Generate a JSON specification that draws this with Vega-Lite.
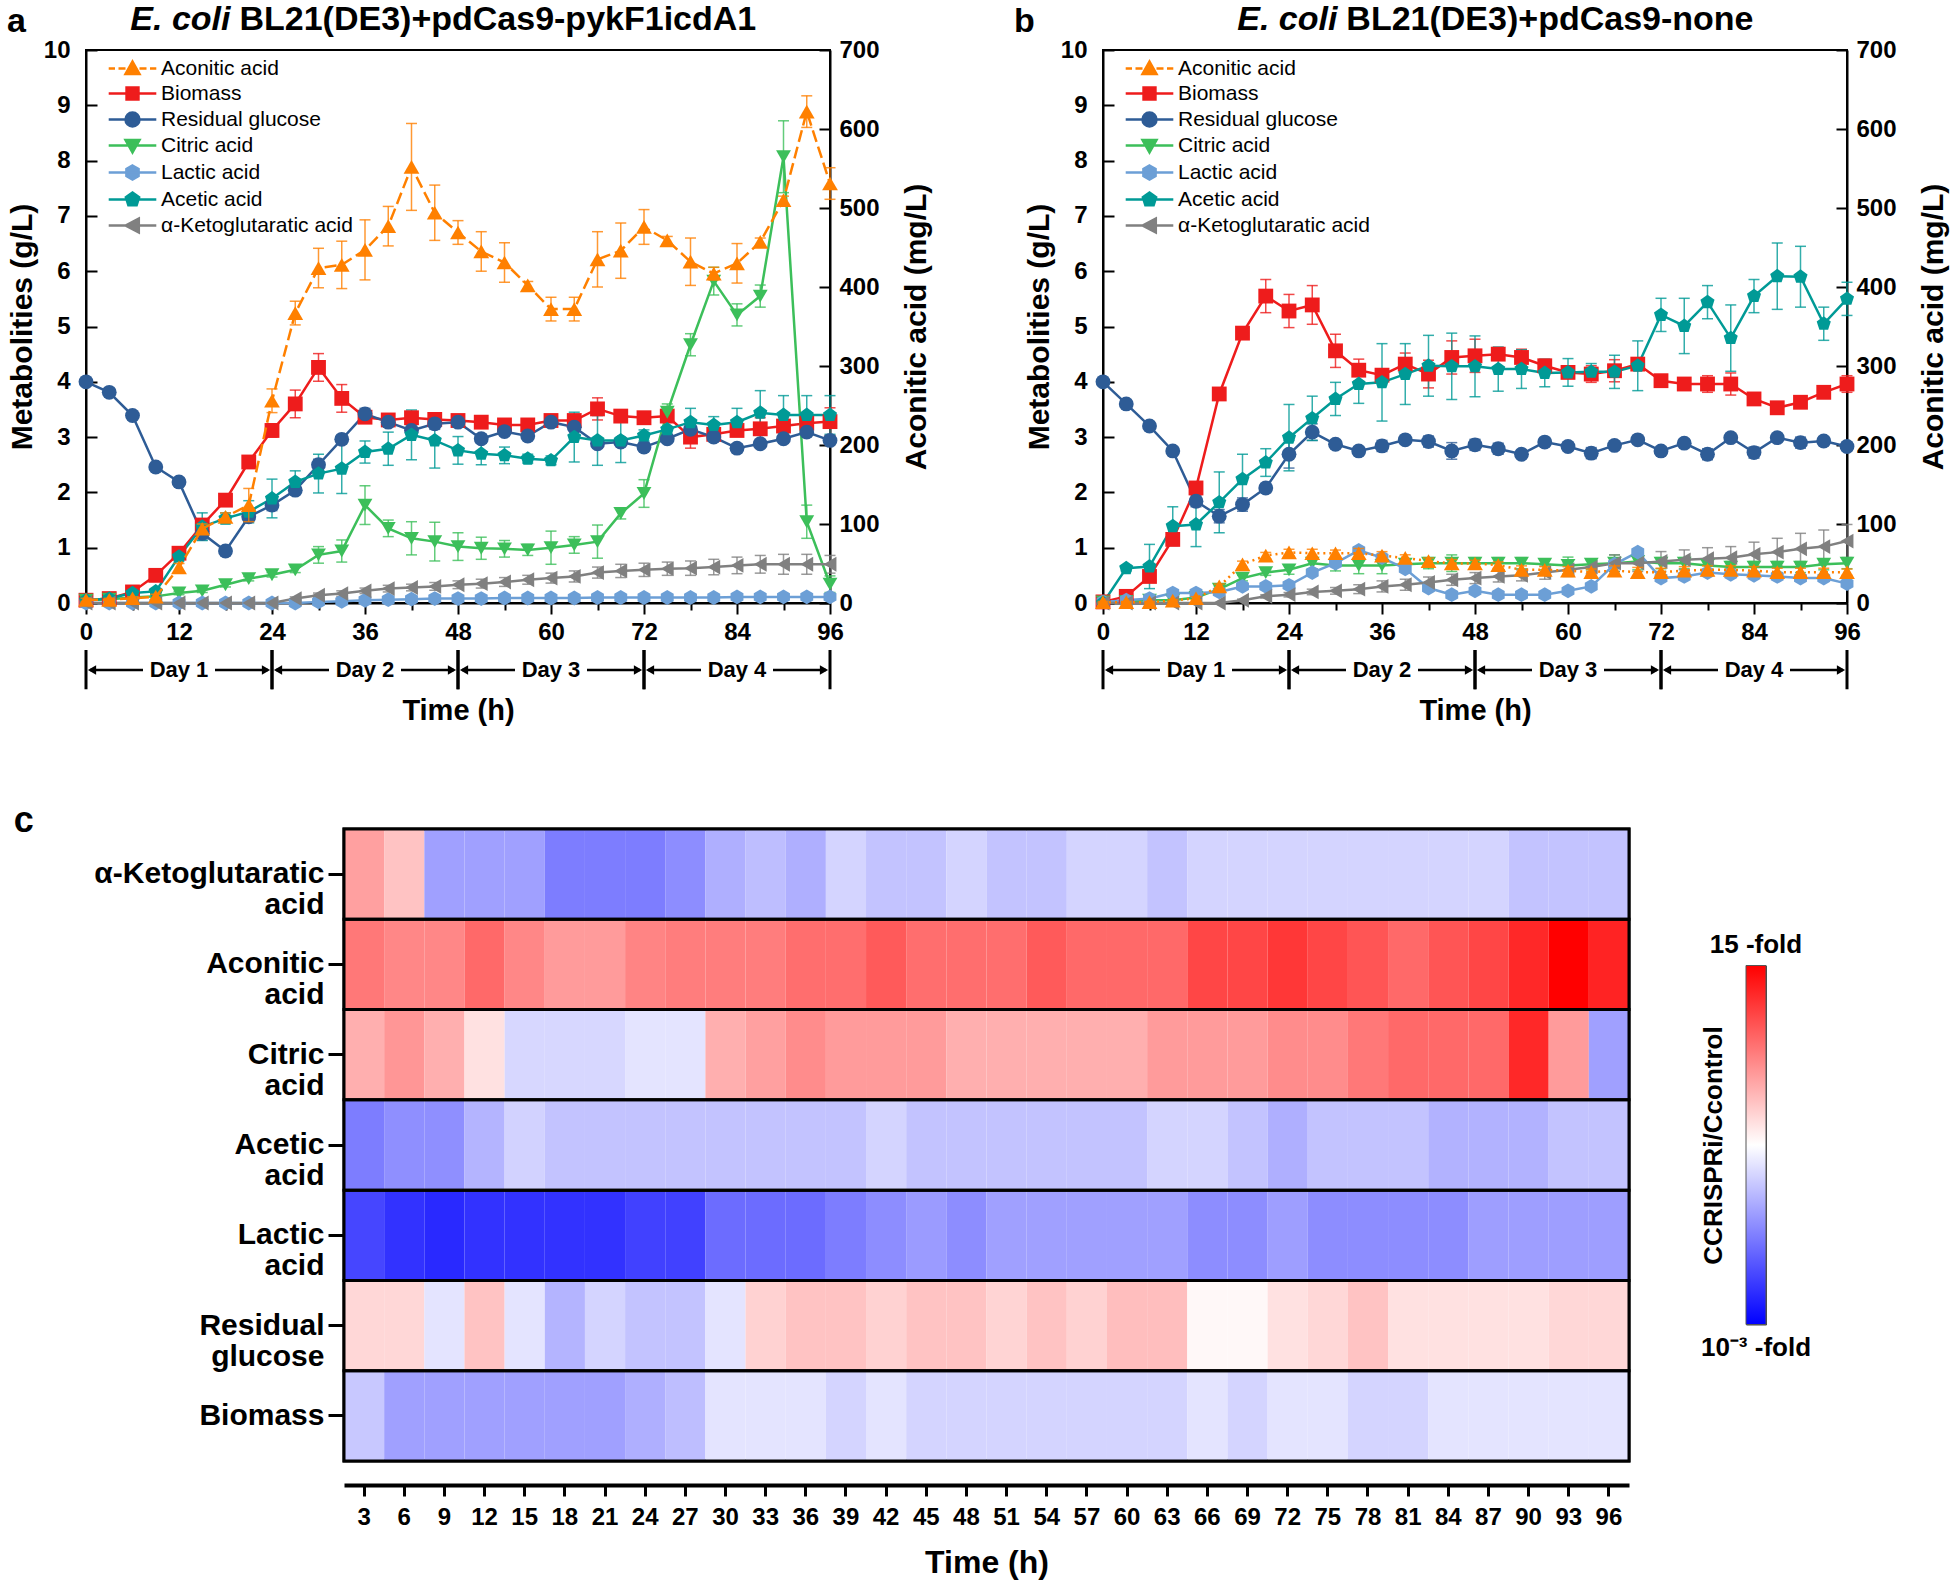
{
"$schema": "https://vega.github.io/schema/vega-lite/v6.json",
"background": "white",
"padding": {"left": 5, "top": 2, "right": 0, "bottom": 0},
"config": {
  "font": "Liberation Sans",
  "view": {"stroke": "black", "strokeWidth": 2},
  "axis": {"labelColor": "black", "titleColor": "black", "domainColor": "black", "tickColor": "black", "labelFont": "Liberation Sans", "titleFont": "Liberation Sans", "grid": false},
  "text": {"font": "Liberation Sans", "color": "black"},
  "legend": {"labelFont": "Liberation Sans"}
},
"datasets": {
"days": [{"day":"Day 1","s":0,"m":12,"e":24},{"day":"Day 2","s":24,"m":36,"e":48},{"day":"Day 3","s":48,"m":60,"e":72},{"day":"Day 4","s":72,"m":84,"e":96}],
"rows": [{"m":"α-Ketoglutaratic acid"},{"m":"Aconitic acid"},{"m":"Citric acid"},{"m":"Acetic acid"},{"m":"Lactic acid"},{"m":"Residual glucose"},{"m":"Biomass"}],
"cbar": [{"label":"15 -fold","fold":15},{"label":"10⁻³ -fold","fold":0.001}],
"pa": [
{"s":"Aconitic acid","t":0,"v":4,"e":2},{"s":"Aconitic acid","t":3,"v":4,"e":2},{"s":"Aconitic acid","t":6,"v":6,"e":2},{"s":"Aconitic acid","t":9,"v":8,"e":3},{"s":"Aconitic acid","t":12,"v":45,"e":5},{"s":"Aconitic acid","t":15,"v":94,"e":6},{"s":"Aconitic acid","t":18,"v":109,"e":5},{"s":"Aconitic acid","t":21,"v":124,"e":21},{"s":"Aconitic acid","t":24,"v":256,"e":15},{"s":"Aconitic acid","t":27,"v":367,"e":15},{"s":"Aconitic acid","t":30,"v":424,"e":25},{"s":"Aconitic acid","t":33,"v":428,"e":30},{"s":"Aconitic acid","t":36,"v":447,"e":38},{"s":"Aconitic acid","t":39,"v":477,"e":25},{"s":"Aconitic acid","t":42,"v":552,"e":55},{"s":"Aconitic acid","t":45,"v":494,"e":35},{"s":"Aconitic acid","t":48,"v":469,"e":15},{"s":"Aconitic acid","t":51,"v":445,"e":25},{"s":"Aconitic acid","t":54,"v":431,"e":25},{"s":"Aconitic acid","t":57,"v":402,"e":5},{"s":"Aconitic acid","t":60,"v":372,"e":15},{"s":"Aconitic acid","t":63,"v":372,"e":15},{"s":"Aconitic acid","t":66,"v":435,"e":35},{"s":"Aconitic acid","t":69,"v":446,"e":35},{"s":"Aconitic acid","t":72,"v":476,"e":22},{"s":"Aconitic acid","t":75,"v":459,"e":5},{"s":"Aconitic acid","t":78,"v":432,"e":30},{"s":"Aconitic acid","t":81,"v":417,"e":8},{"s":"Aconitic acid","t":84,"v":430,"e":25},{"s":"Aconitic acid","t":87,"v":457,"e":5},{"s":"Aconitic acid","t":90,"v":510,"e":5},{"s":"Aconitic acid","t":93,"v":622,"e":20},{"s":"Aconitic acid","t":96,"v":531,"e":20},
{"s":"Biomass","t":0,"v":0.05,"e":0.02},{"s":"Biomass","t":3,"v":0.08,"e":0.02},{"s":"Biomass","t":6,"v":0.2,"e":0.03},{"s":"Biomass","t":9,"v":0.5,"e":0.05},{"s":"Biomass","t":12,"v":0.9,"e":0.06},{"s":"Biomass","t":15,"v":1.41,"e":0.08},{"s":"Biomass","t":18,"v":1.86,"e":0.1},{"s":"Biomass","t":21,"v":2.55,"e":0.08},{"s":"Biomass","t":24,"v":3.12,"e":0.12},{"s":"Biomass","t":27,"v":3.6,"e":0.25},{"s":"Biomass","t":30,"v":4.26,"e":0.25},{"s":"Biomass","t":33,"v":3.7,"e":0.25},{"s":"Biomass","t":36,"v":3.36,"e":0.1},{"s":"Biomass","t":39,"v":3.31,"e":0.08},{"s":"Biomass","t":42,"v":3.35,"e":0.08},{"s":"Biomass","t":45,"v":3.32,"e":0.1},{"s":"Biomass","t":48,"v":3.3,"e":0.08},{"s":"Biomass","t":51,"v":3.27,"e":0.06},{"s":"Biomass","t":54,"v":3.22,"e":0.06},{"s":"Biomass","t":57,"v":3.22,"e":0.06},{"s":"Biomass","t":60,"v":3.3,"e":0.06},{"s":"Biomass","t":63,"v":3.3,"e":0.06},{"s":"Biomass","t":66,"v":3.51,"e":0.2},{"s":"Biomass","t":69,"v":3.38,"e":0.08},{"s":"Biomass","t":72,"v":3.35,"e":0.08},{"s":"Biomass","t":75,"v":3.38,"e":0.08},{"s":"Biomass","t":78,"v":3.0,"e":0.2},{"s":"Biomass","t":81,"v":3.05,"e":0.06},{"s":"Biomass","t":84,"v":3.12,"e":0.06},{"s":"Biomass","t":87,"v":3.15,"e":0.2},{"s":"Biomass","t":90,"v":3.2,"e":0.1},{"s":"Biomass","t":93,"v":3.25,"e":0.1},{"s":"Biomass","t":96,"v":3.28,"e":0.25},
{"s":"Residual glucose","t":0,"v":4.0,"e":0.05},{"s":"Residual glucose","t":3,"v":3.81,"e":0.05},{"s":"Residual glucose","t":6,"v":3.39,"e":0.06},{"s":"Residual glucose","t":9,"v":2.46,"e":0.06},{"s":"Residual glucose","t":12,"v":2.19,"e":0.07},{"s":"Residual glucose","t":15,"v":1.26,"e":0.12},{"s":"Residual glucose","t":18,"v":0.94,"e":0.08},{"s":"Residual glucose","t":21,"v":1.56,"e":0.08},{"s":"Residual glucose","t":24,"v":1.77,"e":0.1},{"s":"Residual glucose","t":27,"v":2.04,"e":0.07},{"s":"Residual glucose","t":30,"v":2.5,"e":0.1},{"s":"Residual glucose","t":33,"v":2.96,"e":0.06},{"s":"Residual glucose","t":36,"v":3.42,"e":0.1},{"s":"Residual glucose","t":39,"v":3.27,"e":0.06},{"s":"Residual glucose","t":42,"v":3.12,"e":0.06},{"s":"Residual glucose","t":45,"v":3.24,"e":0.1},{"s":"Residual glucose","t":48,"v":3.27,"e":0.06},{"s":"Residual glucose","t":51,"v":2.97,"e":0.08},{"s":"Residual glucose","t":54,"v":3.1,"e":0.06},{"s":"Residual glucose","t":57,"v":3.02,"e":0.06},{"s":"Residual glucose","t":60,"v":3.27,"e":0.05},{"s":"Residual glucose","t":63,"v":3.18,"e":0.06},{"s":"Residual glucose","t":66,"v":2.88,"e":0.08},{"s":"Residual glucose","t":69,"v":2.91,"e":0.06},{"s":"Residual glucose","t":72,"v":2.82,"e":0.07},{"s":"Residual glucose","t":75,"v":2.97,"e":0.06},{"s":"Residual glucose","t":78,"v":3.14,"e":0.06},{"s":"Residual glucose","t":81,"v":3.0,"e":0.06},{"s":"Residual glucose","t":84,"v":2.8,"e":0.08},{"s":"Residual glucose","t":87,"v":2.88,"e":0.06},{"s":"Residual glucose","t":90,"v":2.97,"e":0.08},{"s":"Residual glucose","t":93,"v":3.09,"e":0.06},{"s":"Residual glucose","t":96,"v":2.94,"e":0.06},
{"s":"Citric acid","t":0,"v":0.05,"e":0.02},{"s":"Citric acid","t":3,"v":0.07,"e":0.02},{"s":"Citric acid","t":6,"v":0.1,"e":0.02},{"s":"Citric acid","t":9,"v":0.12,"e":0.02},{"s":"Citric acid","t":12,"v":0.18,"e":0.03},{"s":"Citric acid","t":15,"v":0.22,"e":0.03},{"s":"Citric acid","t":18,"v":0.33,"e":0.04},{"s":"Citric acid","t":21,"v":0.44,"e":0.04},{"s":"Citric acid","t":24,"v":0.51,"e":0.04},{"s":"Citric acid","t":27,"v":0.6,"e":0.05},{"s":"Citric acid","t":30,"v":0.87,"e":0.15},{"s":"Citric acid","t":33,"v":0.94,"e":0.2},{"s":"Citric acid","t":36,"v":1.77,"e":0.35},{"s":"Citric acid","t":39,"v":1.35,"e":0.15},{"s":"Citric acid","t":42,"v":1.17,"e":0.3},{"s":"Citric acid","t":45,"v":1.11,"e":0.35},{"s":"Citric acid","t":48,"v":1.02,"e":0.25},{"s":"Citric acid","t":51,"v":0.99,"e":0.2},{"s":"Citric acid","t":54,"v":0.98,"e":0.15},{"s":"Citric acid","t":57,"v":0.96,"e":0.1},{"s":"Citric acid","t":60,"v":1.0,"e":0.3},{"s":"Citric acid","t":63,"v":1.05,"e":0.15},{"s":"Citric acid","t":66,"v":1.11,"e":0.3},{"s":"Citric acid","t":69,"v":1.62,"e":0.1},{"s":"Citric acid","t":72,"v":1.98,"e":0.25},{"s":"Citric acid","t":75,"v":3.45,"e":0.15},{"s":"Citric acid","t":78,"v":4.67,"e":0.2},{"s":"Citric acid","t":81,"v":5.82,"e":0.25},{"s":"Citric acid","t":84,"v":5.21,"e":0.2},{"s":"Citric acid","t":87,"v":5.55,"e":0.2},{"s":"Citric acid","t":90,"v":8.07,"e":0.65},{"s":"Citric acid","t":93,"v":1.47,"e":0.3},{"s":"Citric acid","t":96,"v":0.34,"e":0.15},
{"s":"Lactic acid","t":0,"v":0,"e":0.005},{"s":"Lactic acid","t":3,"v":0,"e":0.005},{"s":"Lactic acid","t":6,"v":0,"e":0.005},{"s":"Lactic acid","t":9,"v":0,"e":0.005},{"s":"Lactic acid","t":12,"v":0,"e":0.005},{"s":"Lactic acid","t":15,"v":0,"e":0.005},{"s":"Lactic acid","t":18,"v":0,"e":0.005},{"s":"Lactic acid","t":21,"v":0,"e":0.005},{"s":"Lactic acid","t":24,"v":0,"e":0.005},{"s":"Lactic acid","t":27,"v":0,"e":0.005},{"s":"Lactic acid","t":30,"v":0.02,"e":0.02},{"s":"Lactic acid","t":33,"v":0.03,"e":0.02},{"s":"Lactic acid","t":36,"v":0.05,"e":0.02},{"s":"Lactic acid","t":39,"v":0.06,"e":0.02},{"s":"Lactic acid","t":42,"v":0.07,"e":0.02},{"s":"Lactic acid","t":45,"v":0.08,"e":0.02},{"s":"Lactic acid","t":48,"v":0.08,"e":0.02},{"s":"Lactic acid","t":51,"v":0.08,"e":0.02},{"s":"Lactic acid","t":54,"v":0.09,"e":0.02},{"s":"Lactic acid","t":57,"v":0.09,"e":0.02},{"s":"Lactic acid","t":60,"v":0.09,"e":0.02},{"s":"Lactic acid","t":63,"v":0.09,"e":0.02},{"s":"Lactic acid","t":66,"v":0.1,"e":0.02},{"s":"Lactic acid","t":69,"v":0.1,"e":0.02},{"s":"Lactic acid","t":72,"v":0.1,"e":0.02},{"s":"Lactic acid","t":75,"v":0.1,"e":0.02},{"s":"Lactic acid","t":78,"v":0.1,"e":0.02},{"s":"Lactic acid","t":81,"v":0.1,"e":0.02},{"s":"Lactic acid","t":84,"v":0.11,"e":0.02},{"s":"Lactic acid","t":87,"v":0.11,"e":0.02},{"s":"Lactic acid","t":90,"v":0.11,"e":0.02},{"s":"Lactic acid","t":93,"v":0.11,"e":0.02},{"s":"Lactic acid","t":96,"v":0.11,"e":0.02},
{"s":"Acetic acid","t":0,"v":0.05,"e":0.02},{"s":"Acetic acid","t":3,"v":0.08,"e":0.02},{"s":"Acetic acid","t":6,"v":0.18,"e":0.05},{"s":"Acetic acid","t":9,"v":0.21,"e":0.05},{"s":"Acetic acid","t":12,"v":0.84,"e":0.08},{"s":"Acetic acid","t":15,"v":1.38,"e":0.25},{"s":"Acetic acid","t":18,"v":1.53,"e":0.1},{"s":"Acetic acid","t":21,"v":1.65,"e":0.2},{"s":"Acetic acid","t":24,"v":1.89,"e":0.35},{"s":"Acetic acid","t":27,"v":2.19,"e":0.2},{"s":"Acetic acid","t":30,"v":2.34,"e":0.35},{"s":"Acetic acid","t":33,"v":2.43,"e":0.45},{"s":"Acetic acid","t":36,"v":2.73,"e":0.2},{"s":"Acetic acid","t":39,"v":2.79,"e":0.3},{"s":"Acetic acid","t":42,"v":3.04,"e":0.45},{"s":"Acetic acid","t":45,"v":2.94,"e":0.5},{"s":"Acetic acid","t":48,"v":2.76,"e":0.25},{"s":"Acetic acid","t":51,"v":2.7,"e":0.2},{"s":"Acetic acid","t":54,"v":2.67,"e":0.15},{"s":"Acetic acid","t":57,"v":2.61,"e":0.08},{"s":"Acetic acid","t":60,"v":2.58,"e":0.08},{"s":"Acetic acid","t":63,"v":3.0,"e":0.45},{"s":"Acetic acid","t":66,"v":2.94,"e":0.45},{"s":"Acetic acid","t":69,"v":2.94,"e":0.4},{"s":"Acetic acid","t":72,"v":3.03,"e":0.1},{"s":"Acetic acid","t":75,"v":3.14,"e":0.15},{"s":"Acetic acid","t":78,"v":3.27,"e":0.25},{"s":"Acetic acid","t":81,"v":3.22,"e":0.15},{"s":"Acetic acid","t":84,"v":3.27,"e":0.25},{"s":"Acetic acid","t":87,"v":3.44,"e":0.4},{"s":"Acetic acid","t":90,"v":3.4,"e":0.35},{"s":"Acetic acid","t":93,"v":3.4,"e":0.35},{"s":"Acetic acid","t":96,"v":3.4,"e":0.35},
{"s":"α-Ketoglutaratic acid","t":0,"v":0,"e":0.005},{"s":"α-Ketoglutaratic acid","t":3,"v":0,"e":0.005},{"s":"α-Ketoglutaratic acid","t":6,"v":0,"e":0.005},{"s":"α-Ketoglutaratic acid","t":9,"v":0,"e":0.005},{"s":"α-Ketoglutaratic acid","t":12,"v":0,"e":0.005},{"s":"α-Ketoglutaratic acid","t":15,"v":0,"e":0.005},{"s":"α-Ketoglutaratic acid","t":18,"v":0,"e":0.005},{"s":"α-Ketoglutaratic acid","t":21,"v":0,"e":0.005},{"s":"α-Ketoglutaratic acid","t":24,"v":0,"e":0.005},{"s":"α-Ketoglutaratic acid","t":27,"v":0.08,"e":0.03},{"s":"α-Ketoglutaratic acid","t":30,"v":0.14,"e":0.04},{"s":"α-Ketoglutaratic acid","t":33,"v":0.17,"e":0.05},{"s":"α-Ketoglutaratic acid","t":36,"v":0.22,"e":0.05},{"s":"α-Ketoglutaratic acid","t":39,"v":0.26,"e":0.06},{"s":"α-Ketoglutaratic acid","t":42,"v":0.28,"e":0.06},{"s":"α-Ketoglutaratic acid","t":45,"v":0.3,"e":0.07},{"s":"α-Ketoglutaratic acid","t":48,"v":0.33,"e":0.07},{"s":"α-Ketoglutaratic acid","t":51,"v":0.35,"e":0.08},{"s":"α-Ketoglutaratic acid","t":54,"v":0.38,"e":0.08},{"s":"α-Ketoglutaratic acid","t":57,"v":0.42,"e":0.08},{"s":"α-Ketoglutaratic acid","t":60,"v":0.45,"e":0.09},{"s":"α-Ketoglutaratic acid","t":63,"v":0.48,"e":0.1},{"s":"α-Ketoglutaratic acid","t":66,"v":0.55,"e":0.1},{"s":"α-Ketoglutaratic acid","t":69,"v":0.58,"e":0.12},{"s":"α-Ketoglutaratic acid","t":72,"v":0.6,"e":0.12},{"s":"α-Ketoglutaratic acid","t":75,"v":0.62,"e":0.12},{"s":"α-Ketoglutaratic acid","t":78,"v":0.63,"e":0.13},{"s":"α-Ketoglutaratic acid","t":81,"v":0.65,"e":0.14},{"s":"α-Ketoglutaratic acid","t":84,"v":0.68,"e":0.15},{"s":"α-Ketoglutaratic acid","t":87,"v":0.7,"e":0.16},{"s":"α-Ketoglutaratic acid","t":90,"v":0.7,"e":0.18},{"s":"α-Ketoglutaratic acid","t":93,"v":0.7,"e":0.18},{"s":"α-Ketoglutaratic acid","t":96,"v":0.7,"e":0.16}
],
"pb": [
{"s":"Aconitic acid","t":0,"v":1,"e":1},{"s":"Aconitic acid","t":3,"v":1,"e":1},{"s":"Aconitic acid","t":6,"v":1,"e":1},{"s":"Aconitic acid","t":9,"v":3,"e":1},{"s":"Aconitic acid","t":12,"v":6,"e":2},{"s":"Aconitic acid","t":15,"v":21,"e":3},{"s":"Aconitic acid","t":18,"v":49,"e":4},{"s":"Aconitic acid","t":21,"v":60,"e":4},{"s":"Aconitic acid","t":24,"v":64,"e":4},{"s":"Aconitic acid","t":27,"v":63,"e":5},{"s":"Aconitic acid","t":30,"v":63,"e":4},{"s":"Aconitic acid","t":33,"v":63,"e":6},{"s":"Aconitic acid","t":36,"v":60,"e":5},{"s":"Aconitic acid","t":39,"v":57,"e":4},{"s":"Aconitic acid","t":42,"v":53,"e":4},{"s":"Aconitic acid","t":45,"v":50,"e":5},{"s":"Aconitic acid","t":48,"v":50,"e":4},{"s":"Aconitic acid","t":51,"v":48,"e":4},{"s":"Aconitic acid","t":54,"v":42,"e":5},{"s":"Aconitic acid","t":57,"v":42,"e":4},{"s":"Aconitic acid","t":60,"v":41,"e":5},{"s":"Aconitic acid","t":63,"v":39,"e":4},{"s":"Aconitic acid","t":66,"v":41,"e":6},{"s":"Aconitic acid","t":69,"v":39,"e":6},{"s":"Aconitic acid","t":72,"v":39,"e":5},{"s":"Aconitic acid","t":75,"v":41,"e":5},{"s":"Aconitic acid","t":78,"v":42,"e":5},{"s":"Aconitic acid","t":81,"v":42,"e":5},{"s":"Aconitic acid","t":84,"v":41,"e":5},{"s":"Aconitic acid","t":87,"v":39,"e":5},{"s":"Aconitic acid","t":90,"v":39,"e":5},{"s":"Aconitic acid","t":93,"v":39,"e":5},{"s":"Aconitic acid","t":96,"v":39,"e":4},
{"s":"Biomass","t":0,"v":0.02,"e":0.01},{"s":"Biomass","t":3,"v":0.12,"e":0.02},{"s":"Biomass","t":6,"v":0.48,"e":0.05},{"s":"Biomass","t":9,"v":1.15,"e":0.1},{"s":"Biomass","t":12,"v":2.08,"e":0.08},{"s":"Biomass","t":15,"v":3.78,"e":0.05},{"s":"Biomass","t":18,"v":4.88,"e":0.1},{"s":"Biomass","t":21,"v":5.55,"e":0.3},{"s":"Biomass","t":24,"v":5.28,"e":0.3},{"s":"Biomass","t":27,"v":5.39,"e":0.35},{"s":"Biomass","t":30,"v":4.56,"e":0.3},{"s":"Biomass","t":33,"v":4.21,"e":0.2},{"s":"Biomass","t":36,"v":4.12,"e":0.1},{"s":"Biomass","t":39,"v":4.32,"e":0.2},{"s":"Biomass","t":42,"v":4.14,"e":0.25},{"s":"Biomass","t":45,"v":4.44,"e":0.3},{"s":"Biomass","t":48,"v":4.47,"e":0.3},{"s":"Biomass","t":51,"v":4.5,"e":0.1},{"s":"Biomass","t":54,"v":4.44,"e":0.15},{"s":"Biomass","t":57,"v":4.29,"e":0.1},{"s":"Biomass","t":60,"v":4.17,"e":0.1},{"s":"Biomass","t":63,"v":4.14,"e":0.15},{"s":"Biomass","t":66,"v":4.2,"e":0.2},{"s":"Biomass","t":69,"v":4.32,"e":0.1},{"s":"Biomass","t":72,"v":4.02,"e":0.1},{"s":"Biomass","t":75,"v":3.96,"e":0.1},{"s":"Biomass","t":78,"v":3.96,"e":0.15},{"s":"Biomass","t":81,"v":3.96,"e":0.2},{"s":"Biomass","t":84,"v":3.69,"e":0.1},{"s":"Biomass","t":87,"v":3.53,"e":0.1},{"s":"Biomass","t":90,"v":3.63,"e":0.1},{"s":"Biomass","t":93,"v":3.81,"e":0.1},{"s":"Biomass","t":96,"v":3.96,"e":0.15},
{"s":"Residual glucose","t":0,"v":4.0,"e":0.05},{"s":"Residual glucose","t":3,"v":3.6,"e":0.06},{"s":"Residual glucose","t":6,"v":3.2,"e":0.07},{"s":"Residual glucose","t":9,"v":2.75,"e":0.07},{"s":"Residual glucose","t":12,"v":1.84,"e":0.1},{"s":"Residual glucose","t":15,"v":1.57,"e":0.12},{"s":"Residual glucose","t":18,"v":1.78,"e":0.12},{"s":"Residual glucose","t":21,"v":2.08,"e":0.08},{"s":"Residual glucose","t":24,"v":2.69,"e":0.25},{"s":"Residual glucose","t":27,"v":3.09,"e":0.15},{"s":"Residual glucose","t":30,"v":2.87,"e":0.07},{"s":"Residual glucose","t":33,"v":2.75,"e":0.07},{"s":"Residual glucose","t":36,"v":2.84,"e":0.1},{"s":"Residual glucose","t":39,"v":2.95,"e":0.07},{"s":"Residual glucose","t":42,"v":2.92,"e":0.1},{"s":"Residual glucose","t":45,"v":2.75,"e":0.15},{"s":"Residual glucose","t":48,"v":2.86,"e":0.1},{"s":"Residual glucose","t":51,"v":2.79,"e":0.1},{"s":"Residual glucose","t":54,"v":2.69,"e":0.07},{"s":"Residual glucose","t":57,"v":2.91,"e":0.07},{"s":"Residual glucose","t":60,"v":2.83,"e":0.07},{"s":"Residual glucose","t":63,"v":2.71,"e":0.1},{"s":"Residual glucose","t":66,"v":2.85,"e":0.07},{"s":"Residual glucose","t":69,"v":2.95,"e":0.07},{"s":"Residual glucose","t":72,"v":2.75,"e":0.07},{"s":"Residual glucose","t":75,"v":2.89,"e":0.07},{"s":"Residual glucose","t":78,"v":2.69,"e":0.1},{"s":"Residual glucose","t":81,"v":2.99,"e":0.07},{"s":"Residual glucose","t":84,"v":2.72,"e":0.1},{"s":"Residual glucose","t":87,"v":2.99,"e":0.07},{"s":"Residual glucose","t":90,"v":2.9,"e":0.1},{"s":"Residual glucose","t":93,"v":2.93,"e":0.07},{"s":"Residual glucose","t":96,"v":2.83,"e":0.07},
{"s":"Citric acid","t":0,"v":0.02,"e":0.01},{"s":"Citric acid","t":3,"v":0.03,"e":0.01},{"s":"Citric acid","t":6,"v":0.05,"e":0.01},{"s":"Citric acid","t":9,"v":0.05,"e":0.02},{"s":"Citric acid","t":12,"v":0.1,"e":0.02},{"s":"Citric acid","t":15,"v":0.25,"e":0.05},{"s":"Citric acid","t":18,"v":0.45,"e":0.05},{"s":"Citric acid","t":21,"v":0.55,"e":0.05},{"s":"Citric acid","t":24,"v":0.6,"e":0.08},{"s":"Citric acid","t":27,"v":0.72,"e":0.1},{"s":"Citric acid","t":30,"v":0.68,"e":0.1},{"s":"Citric acid","t":33,"v":0.68,"e":0.15},{"s":"Citric acid","t":36,"v":0.68,"e":0.15},{"s":"Citric acid","t":39,"v":0.7,"e":0.1},{"s":"Citric acid","t":42,"v":0.72,"e":0.1},{"s":"Citric acid","t":45,"v":0.72,"e":0.15},{"s":"Citric acid","t":48,"v":0.72,"e":0.1},{"s":"Citric acid","t":51,"v":0.72,"e":0.1},{"s":"Citric acid","t":54,"v":0.72,"e":0.1},{"s":"Citric acid","t":57,"v":0.7,"e":0.1},{"s":"Citric acid","t":60,"v":0.68,"e":0.15},{"s":"Citric acid","t":63,"v":0.7,"e":0.1},{"s":"Citric acid","t":66,"v":0.72,"e":0.15},{"s":"Citric acid","t":69,"v":0.75,"e":0.15},{"s":"Citric acid","t":72,"v":0.72,"e":0.1},{"s":"Citric acid","t":75,"v":0.72,"e":0.1},{"s":"Citric acid","t":78,"v":0.68,"e":0.1},{"s":"Citric acid","t":81,"v":0.65,"e":0.1},{"s":"Citric acid","t":84,"v":0.65,"e":0.1},{"s":"Citric acid","t":87,"v":0.65,"e":0.1},{"s":"Citric acid","t":90,"v":0.65,"e":0.1},{"s":"Citric acid","t":93,"v":0.7,"e":0.1},{"s":"Citric acid","t":96,"v":0.72,"e":0.1},
{"s":"Lactic acid","t":0,"v":0.02,"e":0.02},{"s":"Lactic acid","t":3,"v":0.05,"e":0.02},{"s":"Lactic acid","t":6,"v":0.08,"e":0.03},{"s":"Lactic acid","t":9,"v":0.18,"e":0.04},{"s":"Lactic acid","t":12,"v":0.18,"e":0.04},{"s":"Lactic acid","t":15,"v":0.2,"e":0.04},{"s":"Lactic acid","t":18,"v":0.3,"e":0.04},{"s":"Lactic acid","t":21,"v":0.3,"e":0.04},{"s":"Lactic acid","t":24,"v":0.32,"e":0.04},{"s":"Lactic acid","t":27,"v":0.55,"e":0.05},{"s":"Lactic acid","t":30,"v":0.72,"e":0.05},{"s":"Lactic acid","t":33,"v":0.95,"e":0.06},{"s":"Lactic acid","t":36,"v":0.82,"e":0.05},{"s":"Lactic acid","t":39,"v":0.62,"e":0.05},{"s":"Lactic acid","t":42,"v":0.27,"e":0.04},{"s":"Lactic acid","t":45,"v":0.15,"e":0.04},{"s":"Lactic acid","t":48,"v":0.22,"e":0.04},{"s":"Lactic acid","t":51,"v":0.15,"e":0.04},{"s":"Lactic acid","t":54,"v":0.15,"e":0.04},{"s":"Lactic acid","t":57,"v":0.15,"e":0.04},{"s":"Lactic acid","t":60,"v":0.22,"e":0.04},{"s":"Lactic acid","t":63,"v":0.3,"e":0.04},{"s":"Lactic acid","t":66,"v":0.7,"e":0.05},{"s":"Lactic acid","t":69,"v":0.92,"e":0.06},{"s":"Lactic acid","t":72,"v":0.45,"e":0.04},{"s":"Lactic acid","t":75,"v":0.48,"e":0.04},{"s":"Lactic acid","t":78,"v":0.55,"e":0.04},{"s":"Lactic acid","t":81,"v":0.52,"e":0.04},{"s":"Lactic acid","t":84,"v":0.5,"e":0.04},{"s":"Lactic acid","t":87,"v":0.48,"e":0.04},{"s":"Lactic acid","t":90,"v":0.45,"e":0.04},{"s":"Lactic acid","t":93,"v":0.45,"e":0.04},{"s":"Lactic acid","t":96,"v":0.35,"e":0.04},
{"s":"Acetic acid","t":0,"v":0.0,"e":0.02},{"s":"Acetic acid","t":3,"v":0.63,"e":0.05},{"s":"Acetic acid","t":6,"v":0.66,"e":0.4},{"s":"Acetic acid","t":9,"v":1.39,"e":0.35},{"s":"Acetic acid","t":12,"v":1.42,"e":0.4},{"s":"Acetic acid","t":15,"v":1.82,"e":0.55},{"s":"Acetic acid","t":18,"v":2.24,"e":0.45},{"s":"Acetic acid","t":21,"v":2.54,"e":0.25},{"s":"Acetic acid","t":24,"v":2.99,"e":0.6},{"s":"Acetic acid","t":27,"v":3.34,"e":0.4},{"s":"Acetic acid","t":30,"v":3.69,"e":0.3},{"s":"Acetic acid","t":33,"v":3.96,"e":0.35},{"s":"Acetic acid","t":36,"v":3.99,"e":0.7},{"s":"Acetic acid","t":39,"v":4.14,"e":0.55},{"s":"Acetic acid","t":42,"v":4.29,"e":0.55},{"s":"Acetic acid","t":45,"v":4.28,"e":0.6},{"s":"Acetic acid","t":48,"v":4.28,"e":0.55},{"s":"Acetic acid","t":51,"v":4.23,"e":0.4},{"s":"Acetic acid","t":54,"v":4.23,"e":0.35},{"s":"Acetic acid","t":57,"v":4.16,"e":0.25},{"s":"Acetic acid","t":60,"v":4.17,"e":0.25},{"s":"Acetic acid","t":63,"v":4.18,"e":0.15},{"s":"Acetic acid","t":66,"v":4.18,"e":0.3},{"s":"Acetic acid","t":69,"v":4.29,"e":0.45},{"s":"Acetic acid","t":72,"v":5.21,"e":0.3},{"s":"Acetic acid","t":75,"v":5.01,"e":0.5},{"s":"Acetic acid","t":78,"v":5.44,"e":0.3},{"s":"Acetic acid","t":81,"v":4.79,"e":0.6},{"s":"Acetic acid","t":84,"v":5.55,"e":0.3},{"s":"Acetic acid","t":87,"v":5.91,"e":0.6},{"s":"Acetic acid","t":90,"v":5.9,"e":0.55},{"s":"Acetic acid","t":93,"v":5.05,"e":0.3},{"s":"Acetic acid","t":96,"v":5.5,"e":0.3},
{"s":"α-Ketoglutaratic acid","t":0,"v":0,"e":0.005},{"s":"α-Ketoglutaratic acid","t":3,"v":0,"e":0.005},{"s":"α-Ketoglutaratic acid","t":6,"v":0,"e":0.005},{"s":"α-Ketoglutaratic acid","t":9,"v":0,"e":0.005},{"s":"α-Ketoglutaratic acid","t":12,"v":0,"e":0.005},{"s":"α-Ketoglutaratic acid","t":15,"v":0,"e":0.005},{"s":"α-Ketoglutaratic acid","t":18,"v":0.05,"e":0.02},{"s":"α-Ketoglutaratic acid","t":21,"v":0.12,"e":0.03},{"s":"α-Ketoglutaratic acid","t":24,"v":0.15,"e":0.04},{"s":"α-Ketoglutaratic acid","t":27,"v":0.2,"e":0.05},{"s":"α-Ketoglutaratic acid","t":30,"v":0.22,"e":0.06},{"s":"α-Ketoglutaratic acid","t":33,"v":0.25,"e":0.08},{"s":"α-Ketoglutaratic acid","t":36,"v":0.3,"e":0.1},{"s":"α-Ketoglutaratic acid","t":39,"v":0.33,"e":0.1},{"s":"α-Ketoglutaratic acid","t":42,"v":0.37,"e":0.1},{"s":"α-Ketoglutaratic acid","t":45,"v":0.42,"e":0.1},{"s":"α-Ketoglutaratic acid","t":48,"v":0.45,"e":0.1},{"s":"α-Ketoglutaratic acid","t":51,"v":0.48,"e":0.1},{"s":"α-Ketoglutaratic acid","t":54,"v":0.5,"e":0.1},{"s":"α-Ketoglutaratic acid","t":57,"v":0.55,"e":0.12},{"s":"α-Ketoglutaratic acid","t":60,"v":0.6,"e":0.12},{"s":"α-Ketoglutaratic acid","t":63,"v":0.65,"e":0.12},{"s":"α-Ketoglutaratic acid","t":66,"v":0.72,"e":0.15},{"s":"α-Ketoglutaratic acid","t":69,"v":0.72,"e":0.15},{"s":"α-Ketoglutaratic acid","t":72,"v":0.75,"e":0.18},{"s":"α-Ketoglutaratic acid","t":75,"v":0.78,"e":0.18},{"s":"α-Ketoglutaratic acid","t":78,"v":0.8,"e":0.2},{"s":"α-Ketoglutaratic acid","t":81,"v":0.82,"e":0.2},{"s":"α-Ketoglutaratic acid","t":84,"v":0.88,"e":0.22},{"s":"α-Ketoglutaratic acid","t":87,"v":0.92,"e":0.25},{"s":"α-Ketoglutaratic acid","t":90,"v":0.98,"e":0.28},{"s":"α-Ketoglutaratic acid","t":93,"v":1.02,"e":0.3},{"s":"α-Ketoglutaratic acid","t":96,"v":1.12,"e":0.3}
],
"heat": [
{"m":"α-Ketoglutaratic acid","t":3,"r":2.75},{"m":"α-Ketoglutaratic acid","t":6,"r":1.89},{"m":"α-Ketoglutaratic acid","t":9,"r":0.076},{"m":"α-Ketoglutaratic acid","t":12,"r":0.076},{"m":"α-Ketoglutaratic acid","t":15,"r":0.076},{"m":"α-Ketoglutaratic acid","t":18,"r":0.0295},{"m":"α-Ketoglutaratic acid","t":21,"r":0.0295},{"m":"α-Ketoglutaratic acid","t":24,"r":0.0295},{"m":"α-Ketoglutaratic acid","t":27,"r":0.045},{"m":"α-Ketoglutaratic acid","t":30,"r":0.114},{"m":"α-Ketoglutaratic acid","t":33,"r":0.172},{"m":"α-Ketoglutaratic acid","t":36,"r":0.114},{"m":"α-Ketoglutaratic acid","t":39,"r":0.31},{"m":"α-Ketoglutaratic acid","t":42,"r":0.197},{"m":"α-Ketoglutaratic acid","t":45,"r":0.197},{"m":"α-Ketoglutaratic acid","t":48,"r":0.31},{"m":"α-Ketoglutaratic acid","t":51,"r":0.197},{"m":"α-Ketoglutaratic acid","t":54,"r":0.197},{"m":"α-Ketoglutaratic acid","t":57,"r":0.31},{"m":"α-Ketoglutaratic acid","t":60,"r":0.31},{"m":"α-Ketoglutaratic acid","t":63,"r":0.197},{"m":"α-Ketoglutaratic acid","t":66,"r":0.31},{"m":"α-Ketoglutaratic acid","t":69,"r":0.31},{"m":"α-Ketoglutaratic acid","t":72,"r":0.31},{"m":"α-Ketoglutaratic acid","t":75,"r":0.31},{"m":"α-Ketoglutaratic acid","t":78,"r":0.31},{"m":"α-Ketoglutaratic acid","t":81,"r":0.31},{"m":"α-Ketoglutaratic acid","t":84,"r":0.31},{"m":"α-Ketoglutaratic acid","t":87,"r":0.31},{"m":"α-Ketoglutaratic acid","t":90,"r":0.197},{"m":"α-Ketoglutaratic acid","t":93,"r":0.197},{"m":"α-Ketoglutaratic acid","t":96,"r":0.197},
{"m":"Aconitic acid","t":3,"r":4.19},{"m":"Aconitic acid","t":6,"r":3.58},{"m":"Aconitic acid","t":9,"r":3.58},{"m":"Aconitic acid","t":12,"r":4.92},{"m":"Aconitic acid","t":15,"r":3.58},{"m":"Aconitic acid","t":18,"r":2.89},{"m":"Aconitic acid","t":21,"r":2.89},{"m":"Aconitic acid","t":24,"r":3.7},{"m":"Aconitic acid","t":27,"r":3.98},{"m":"Aconitic acid","t":30,"r":3.98},{"m":"Aconitic acid","t":33,"r":3.98},{"m":"Aconitic acid","t":36,"r":4.66},{"m":"Aconitic acid","t":39,"r":4.66},{"m":"Aconitic acid","t":42,"r":5.77},{"m":"Aconitic acid","t":45,"r":4.66},{"m":"Aconitic acid","t":48,"r":4.66},{"m":"Aconitic acid","t":51,"r":4.66},{"m":"Aconitic acid","t":54,"r":5.77},{"m":"Aconitic acid","t":57,"r":4.92},{"m":"Aconitic acid","t":60,"r":4.92},{"m":"Aconitic acid","t":63,"r":4.92},{"m":"Aconitic acid","t":66,"r":7.13},{"m":"Aconitic acid","t":69,"r":7.13},{"m":"Aconitic acid","t":72,"r":8.37},{"m":"Aconitic acid","t":75,"r":7.13},{"m":"Aconitic acid","t":78,"r":6.08},{"m":"Aconitic acid","t":81,"r":4.92},{"m":"Aconitic acid","t":84,"r":6.08},{"m":"Aconitic acid","t":87,"r":7.13},{"m":"Aconitic acid","t":90,"r":9.81},{"m":"Aconitic acid","t":93,"r":15},{"m":"Aconitic acid","t":96,"r":10.35},
{"m":"Citric acid","t":3,"r":2.34},{"m":"Citric acid","t":6,"r":3.05},{"m":"Citric acid","t":9,"r":2.34},{"m":"Citric acid","t":12,"r":1.38},{"m":"Citric acid","t":15,"r":0.339},{"m":"Citric acid","t":18,"r":0.339},{"m":"Citric acid","t":21,"r":0.339},{"m":"Citric acid","t":24,"r":0.48},{"m":"Citric acid","t":27,"r":0.48},{"m":"Citric acid","t":30,"r":2.34},{"m":"Citric acid","t":33,"r":2.75},{"m":"Citric acid","t":36,"r":3.39},{"m":"Citric acid","t":39,"r":2.89},{"m":"Citric acid","t":42,"r":2.89},{"m":"Citric acid","t":45,"r":2.89},{"m":"Citric acid","t":48,"r":2.34},{"m":"Citric acid","t":51,"r":2.34},{"m":"Citric acid","t":54,"r":2.34},{"m":"Citric acid","t":57,"r":2.34},{"m":"Citric acid","t":60,"r":2.34},{"m":"Citric acid","t":63,"r":2.89},{"m":"Citric acid","t":66,"r":2.89},{"m":"Citric acid","t":69,"r":2.89},{"m":"Citric acid","t":72,"r":3.39},{"m":"Citric acid","t":75,"r":3.39},{"m":"Citric acid","t":78,"r":4.19},{"m":"Citric acid","t":81,"r":4.92},{"m":"Citric acid","t":84,"r":4.92},{"m":"Citric acid","t":87,"r":4.92},{"m":"Citric acid","t":90,"r":9.81},{"m":"Citric acid","t":93,"r":2.89},{"m":"Citric acid","t":96,"r":0.076},
{"m":"Acetic acid","t":3,"r":0.0295},{"m":"Acetic acid","t":6,"r":0.048},{"m":"Acetic acid","t":9,"r":0.048},{"m":"Acetic acid","t":12,"r":0.131},{"m":"Acetic acid","t":15,"r":0.296},{"m":"Acetic acid","t":18,"r":0.197},{"m":"Acetic acid","t":21,"r":0.197},{"m":"Acetic acid","t":24,"r":0.197},{"m":"Acetic acid","t":27,"r":0.197},{"m":"Acetic acid","t":30,"r":0.197},{"m":"Acetic acid","t":33,"r":0.197},{"m":"Acetic acid","t":36,"r":0.197},{"m":"Acetic acid","t":39,"r":0.197},{"m":"Acetic acid","t":42,"r":0.31},{"m":"Acetic acid","t":45,"r":0.197},{"m":"Acetic acid","t":48,"r":0.197},{"m":"Acetic acid","t":51,"r":0.197},{"m":"Acetic acid","t":54,"r":0.197},{"m":"Acetic acid","t":57,"r":0.197},{"m":"Acetic acid","t":60,"r":0.197},{"m":"Acetic acid","t":63,"r":0.31},{"m":"Acetic acid","t":66,"r":0.31},{"m":"Acetic acid","t":69,"r":0.197},{"m":"Acetic acid","t":72,"r":0.114},{"m":"Acetic acid","t":75,"r":0.197},{"m":"Acetic acid","t":78,"r":0.197},{"m":"Acetic acid","t":81,"r":0.197},{"m":"Acetic acid","t":84,"r":0.124},{"m":"Acetic acid","t":87,"r":0.124},{"m":"Acetic acid","t":90,"r":0.124},{"m":"Acetic acid","t":93,"r":0.197},{"m":"Acetic acid","t":96,"r":0.197},
{"m":"Lactic acid","t":3,"r":0.0067},{"m":"Lactic acid","t":6,"r":0.0039},{"m":"Lactic acid","t":9,"r":0.003},{"m":"Lactic acid","t":12,"r":0.0039},{"m":"Lactic acid","t":15,"r":0.0039},{"m":"Lactic acid","t":18,"r":0.0039},{"m":"Lactic acid","t":21,"r":0.0039},{"m":"Lactic acid","t":24,"r":0.0058},{"m":"Lactic acid","t":27,"r":0.0058},{"m":"Lactic acid","t":30,"r":0.0187},{"m":"Lactic acid","t":33,"r":0.0187},{"m":"Lactic acid","t":36,"r":0.0187},{"m":"Lactic acid","t":39,"r":0.0295},{"m":"Lactic acid","t":42,"r":0.045},{"m":"Lactic acid","t":45,"r":0.067},{"m":"Lactic acid","t":48,"r":0.045},{"m":"Lactic acid","t":51,"r":0.076},{"m":"Lactic acid","t":54,"r":0.076},{"m":"Lactic acid","t":57,"r":0.076},{"m":"Lactic acid","t":60,"r":0.076},{"m":"Lactic acid","t":63,"r":0.076},{"m":"Lactic acid","t":66,"r":0.045},{"m":"Lactic acid","t":69,"r":0.045},{"m":"Lactic acid","t":72,"r":0.072},{"m":"Lactic acid","t":75,"r":0.045},{"m":"Lactic acid","t":78,"r":0.045},{"m":"Lactic acid","t":81,"r":0.045},{"m":"Lactic acid","t":84,"r":0.045},{"m":"Lactic acid","t":87,"r":0.072},{"m":"Lactic acid","t":90,"r":0.072},{"m":"Lactic acid","t":93,"r":0.072},{"m":"Lactic acid","t":96,"r":0.072},
{"m":"Residual glucose","t":3,"r":1.53},{"m":"Residual glucose","t":6,"r":1.53},{"m":"Residual glucose","t":9,"r":0.48},{"m":"Residual glucose","t":12,"r":1.89},{"m":"Residual glucose","t":15,"r":0.48},{"m":"Residual glucose","t":18,"r":0.131},{"m":"Residual glucose","t":21,"r":0.31},{"m":"Residual glucose","t":24,"r":0.197},{"m":"Residual glucose","t":27,"r":0.197},{"m":"Residual glucose","t":30,"r":0.48},{"m":"Residual glucose","t":33,"r":1.61},{"m":"Residual glucose","t":36,"r":1.89},{"m":"Residual glucose","t":39,"r":1.89},{"m":"Residual glucose","t":42,"r":1.61},{"m":"Residual glucose","t":45,"r":1.89},{"m":"Residual glucose","t":48,"r":1.89},{"m":"Residual glucose","t":51,"r":1.58},{"m":"Residual glucose","t":54,"r":1.89},{"m":"Residual glucose","t":57,"r":1.61},{"m":"Residual glucose","t":60,"r":1.99},{"m":"Residual glucose","t":63,"r":1.99},{"m":"Residual glucose","t":66,"r":1.08},{"m":"Residual glucose","t":69,"r":1.08},{"m":"Residual glucose","t":72,"r":1.38},{"m":"Residual glucose","t":75,"r":1.53},{"m":"Residual glucose","t":78,"r":1.89},{"m":"Residual glucose","t":81,"r":1.38},{"m":"Residual glucose","t":84,"r":1.38},{"m":"Residual glucose","t":87,"r":1.38},{"m":"Residual glucose","t":90,"r":1.38},{"m":"Residual glucose","t":93,"r":1.53},{"m":"Residual glucose","t":96,"r":1.53},
{"m":"Biomass","t":3,"r":0.225},{"m":"Biomass","t":6,"r":0.076},{"m":"Biomass","t":9,"r":0.076},{"m":"Biomass","t":12,"r":0.076},{"m":"Biomass","t":15,"r":0.076},{"m":"Biomass","t":18,"r":0.076},{"m":"Biomass","t":21,"r":0.076},{"m":"Biomass","t":24,"r":0.114},{"m":"Biomass","t":27,"r":0.172},{"m":"Biomass","t":30,"r":0.48},{"m":"Biomass","t":33,"r":0.48},{"m":"Biomass","t":36,"r":0.48},{"m":"Biomass","t":39,"r":0.31},{"m":"Biomass","t":42,"r":0.48},{"m":"Biomass","t":45,"r":0.31},{"m":"Biomass","t":48,"r":0.31},{"m":"Biomass","t":51,"r":0.31},{"m":"Biomass","t":54,"r":0.31},{"m":"Biomass","t":57,"r":0.31},{"m":"Biomass","t":60,"r":0.31},{"m":"Biomass","t":63,"r":0.31},{"m":"Biomass","t":66,"r":0.48},{"m":"Biomass","t":69,"r":0.31},{"m":"Biomass","t":72,"r":0.48},{"m":"Biomass","t":75,"r":0.48},{"m":"Biomass","t":78,"r":0.31},{"m":"Biomass","t":81,"r":0.31},{"m":"Biomass","t":84,"r":0.48},{"m":"Biomass","t":87,"r":0.48},{"m":"Biomass","t":90,"r":0.48},{"m":"Biomass","t":93,"r":0.48},{"m":"Biomass","t":96,"r":0.48}
]
},
"resolve": {"scale": {"x": "independent", "y": "independent", "color": "independent", "shape": "independent", "fill": "independent", "stroke": "independent"}, "legend": {"color": "independent", "shape": "independent", "fill": "independent", "stroke": "independent"}},
"columns": 1,
"align": "none",
"spacing": 75,
"concat": [
{
"hconcat": [
{
"width": 744, "height": 553,
"layer": [
  {"layer": [
    {"data": {"name": "pa"}, "transform": [{"filter": "datum.s !== 'Aconitic acid'"}],
     "mark": {"type": "errorbar", "ticks": true, "size": 11, "thickness": 1.5, "opacity": 0.8},
     "encoding": {"x": {"field": "t", "type": "quantitative", "title": "Time (h)"}, "y": {"field": "v", "type": "quantitative", "title": "Metabolities (g/L)"}, "yError": {"field": "e"},
       "color": {"field": "s", "type": "nominal", "scale": {"domain": ["Aconitic acid","Biomass","Residual glucose","Citric acid","Lactic acid","Acetic acid","α-Ketoglutaratic acid"], "range": ["#ff8000","#ee1c1c","#2e5c96","#3cbf5a","#6c9fd6","#009a96","#808080"]}, "legend": null}}},
    {"data": {"name": "pa"}, "transform": [{"filter": "datum.s !== 'Aconitic acid'"}],
     "mark": {"type": "line", "strokeWidth": 2.5},
     "encoding": {
       "x": {"field": "t", "type": "quantitative", "title": "Time (h)", "scale": {"domain": [0, 96], "nice": false, "zero": false},
         "axis": {"title": "Time (h)", "values": [0,3,6,9,12,15,18,21,24,27,30,33,36,39,42,45,48,51,54,57,60,63,66,69,72,75,78,81,84,87,90,93,96], "labelExpr": "datum.value % 12 === 0 ? datum.label : ''", "labelOverlap": false, "labelFlush": false, "tickSize": {"condition": {"test": "datum.value % 12 === 0", "value": 11}, "value": 7}, "tickWidth": 2, "domainWidth": 2, "labelFontSize": 24, "labelFontWeight": "bold", "labelPadding": 6, "titleFontSize": 29, "titleFontWeight": "bold", "titlePadding": 52}},
       "y": {"field": "v", "type": "quantitative", "title": "Metabolities (g/L)", "scale": {"domain": [0, 10], "nice": false},
         "axis": {"title": "Metabolities (g/L)", "values": [0,0.5,1,1.5,2,2.5,3,3.5,4,4.5,5,5.5,6,6.5,7,7.5,8,8.5,9,9.5,10], "labelExpr": "datum.value % 1 === 0 ? datum.label : ''", "labelOverlap": false, "labelFlush": false, "tickSize": {"condition": {"test": "datum.value % 1 === 0", "value": -11}, "value": -6}, "tickWidth": 2, "domainWidth": 2, "labelFontSize": 24, "labelFontWeight": "bold", "labelPadding": 27, "titleFontSize": 30, "titleFontWeight": "bold", "titlePadding": 6}},
       "color": {"field": "s", "type": "nominal", "legend": null}}},
    {"data": {"name": "pa"}, "transform": [{"filter": "datum.s !== 'Aconitic acid'"}],
     "mark": {"type": "point", "filled": true, "size": 220, "opacity": 1},
     "encoding": {"x": {"field": "t", "type": "quantitative", "title": "Time (h)"}, "y": {"field": "v", "type": "quantitative", "title": "Metabolities (g/L)"},
       "color": {"field": "s", "type": "nominal", "legend": null},
       "shape": {"field": "s", "type": "nominal", "scale": {"domain": ["Aconitic acid","Biomass","Residual glucose","Citric acid","Lactic acid","Acetic acid","α-Ketoglutaratic acid"], "range": ["triangle-up","square","circle","triangle-down","M0,-1L0.87,-0.5L0.87,0.5L0,1L-0.87,0.5L-0.87,-0.5Z","M0,-1L0.95,-0.31L0.59,0.81L-0.59,0.81L-0.95,-0.31Z","triangle-left"]}, "legend": null}}},
    {"data": {"name": "days"}, "mark": {"type": "rule", "strokeWidth": 3, "color": "black"}, "encoding": {"x": {"field": "s", "type": "quantitative", "title": "Time (h)"}, "y": {"datum": -0.85}, "y2": {"datum": -1.56}}},
    {"data": {"name": "days"}, "mark": {"type": "rule", "strokeWidth": 3, "color": "black"}, "encoding": {"x": {"field": "e", "type": "quantitative", "title": "Time (h)"}, "y": {"datum": -0.85}, "y2": {"datum": -1.56}}},
    {"data": {"name": "days"}, "mark": {"type": "rule", "strokeWidth": 2.5, "color": "black", "xOffset": 4, "x2Offset": -36}, "encoding": {"x": {"field": "s", "type": "quantitative", "title": "Time (h)"}, "x2": {"field": "m"}, "y": {"datum": -1.21}}},
    {"data": {"name": "days"}, "mark": {"type": "rule", "strokeWidth": 2.5, "color": "black", "xOffset": 36, "x2Offset": -4}, "encoding": {"x": {"field": "m", "type": "quantitative", "title": "Time (h)"}, "x2": {"field": "e"}, "y": {"datum": -1.21}}},
    {"data": {"name": "days"}, "mark": {"type": "point", "shape": "triangle-left", "filled": true, "size": 90, "color": "black", "opacity": 1, "xOffset": 6}, "encoding": {"x": {"field": "s", "type": "quantitative", "title": "Time (h)"}, "y": {"datum": -1.21}}},
    {"data": {"name": "days"}, "mark": {"type": "point", "shape": "triangle-right", "filled": true, "size": 90, "color": "black", "opacity": 1, "xOffset": -6}, "encoding": {"x": {"field": "e", "type": "quantitative", "title": "Time (h)"}, "y": {"datum": -1.21}}},
    {"data": {"name": "days"}, "mark": {"type": "text", "fontSize": 22, "fontWeight": "bold", "baseline": "middle", "align": "center"}, "encoding": {"x": {"field": "m", "type": "quantitative", "title": "Time (h)"}, "y": {"datum": -1.21}, "text": {"field": "day"}}},
    {"data": {"values": [{"txt": "a"}]}, "mark": {"type": "text", "fontSize": 34, "fontWeight": "bold", "baseline": "alphabetic", "align": "left"}, "encoding": {"x": {"datum": -10.2}, "y": {"datum": 10.33}, "text": {"field": "txt"}}},
    {"data": {"values": [{"txt": "E. coli"}]}, "mark": {"type": "text", "fontSize": 34, "fontWeight": "bold", "fontStyle": "italic", "baseline": "alphabetic", "align": "right", "dx": -9}, "encoding": {"x": {"datum": 19.8}, "y": {"datum": 10.36}, "text": {"field": "txt"}}},
    {"data": {"values": [{"txt": "BL21(DE3)+pdCas9-pykF1icdA1"}]}, "mark": {"type": "text", "fontSize": 34, "fontWeight": "bold", "baseline": "alphabetic", "align": "left"}, "encoding": {"x": {"datum": 19.8}, "y": {"datum": 10.36}, "text": {"field": "txt"}}}
  ]},
  {"layer": [
    {"data": {"name": "pa"}, "transform": [{"filter": "datum.s === 'Aconitic acid'"}],
     "mark": {"type": "errorbar", "ticks": true, "size": 11, "thickness": 1.5, "opacity": 0.8},
     "encoding": {"x": {"field": "t", "type": "quantitative", "title": "Time (h)"}, "y": {"field": "v", "type": "quantitative", "title": "Aconitic acid (mg/L)"}, "yError": {"field": "e"}, "color": {"field": "s", "type": "nominal", "legend": null}}},
    {"data": {"name": "pa"}, "transform": [{"filter": "datum.s === 'Aconitic acid'"}],
     "mark": {"type": "line", "strokeWidth": 2.5, "strokeDash": [12, 5]},
     "encoding": {"x": {"field": "t", "type": "quantitative", "title": "Time (h)"},
       "y": {"field": "v", "type": "quantitative", "title": "Aconitic acid (mg/L)", "scale": {"domain": [0, 700], "nice": false},
         "axis": {"orient": "right", "title": "Aconitic acid (mg/L)", "values": [0,50,100,150,200,250,300,350,400,450,500,550,600,650,700], "labelExpr": "datum.value % 100 === 0 ? datum.label : ''", "labelOverlap": false, "labelFlush": false, "tickSize": {"condition": {"test": "datum.value % 100 === 0", "value": -11}, "value": -6}, "tickWidth": 2, "domainWidth": 2, "labelFontSize": 24, "labelFontWeight": "bold", "labelPadding": 20, "titleFontSize": 30, "titleFontWeight": "bold", "titlePadding": 22, "titleAngle": 270, "titleBaseline": "top"}},
       "color": {"field": "s", "type": "nominal", "legend": null}}},
    {"data": {"name": "pa"}, "transform": [{"filter": "datum.s === 'Aconitic acid'"}],
     "mark": {"type": "point", "filled": true, "size": 250, "opacity": 1, "shape": "triangle-up"},
     "encoding": {"x": {"field": "t", "type": "quantitative", "title": "Time (h)"}, "y": {"field": "v", "type": "quantitative", "title": "Aconitic acid (mg/L)"}, "color": {"field": "s", "type": "nominal", "legend": null}}}
  ]},
  {"data": {"name": "pa"}, "transform": [{"filter": "datum.t < 0"}],
   "mark": {"type": "point", "filled": true, "strokeWidth": 2.5, "opacity": 1},
   "encoding": {
     "fill": {"field": "s", "type": "nominal", "scale": {"domain": ["Aconitic acid","Biomass","Residual glucose","Citric acid","Lactic acid","Acetic acid","α-Ketoglutaratic acid"], "range": ["#ff8000","#ee1c1c","#2e5c96","#3cbf5a","#6c9fd6","#009a96","#808080"]}, "legend": {"title": null, "orient": "top-left", "offset": 8, "padding": 0, "symbolSize": 196, "symbolStrokeWidth": 2.5, "symbolOffset": 28, "labelFontSize": 21, "labelColor": "black", "labelOffset": 18, "rowPadding": 2, "labelLimit": 400}},
     "stroke": {"field": "s", "type": "nominal", "scale": {"domain": ["Aconitic acid","Biomass","Residual glucose","Citric acid","Lactic acid","Acetic acid","α-Ketoglutaratic acid"], "range": ["#ff8000","#ee1c1c","#2e5c96","#3cbf5a","#6c9fd6","#009a96","#808080"]}, "legend": {"title": null, "orient": "top-left", "offset": 8, "padding": 0, "symbolSize": 196, "symbolStrokeWidth": 2.5, "symbolOffset": 28, "labelFontSize": 21, "labelColor": "black", "labelOffset": 18, "rowPadding": 2, "labelLimit": 400}},
     "shape": {"field": "s", "type": "nominal", "scale": {"domain": ["Aconitic acid","Biomass","Residual glucose","Citric acid","Lactic acid","Acetic acid","α-Ketoglutaratic acid"], "range": ["M-3.4,0H-2.5M-2,0H-1M1,0H2M2.5,0H3.4M0,-1L1,0.8L-1,0.8Z","M-3.4,0H3.4M-0.85,-0.85H0.85V0.85H-0.85Z","M-3.4,0H3.4M-1,0A1,1 0 1,0 1,0A1,1 0 1,0 -1,0Z","M-3.4,0H3.4M0,1L1,-0.8L-1,-0.8Z","M-3.4,0H3.4M0,-1L0.87,-0.5L0.87,0.5L0,1L-0.87,0.5L-0.87,-0.5Z","M-3.4,0H3.4M0,-1L0.95,-0.31L0.59,0.81L-0.59,0.81L-0.95,-0.31Z","M-3.4,0H3.4M-1,0L0.9,-1L0.9,1Z"]}, "legend": {"title": null, "orient": "top-left", "offset": 8, "padding": 0, "symbolSize": 196, "symbolStrokeWidth": 2.5, "symbolOffset": 28, "labelFontSize": 21, "labelColor": "black", "labelOffset": 18, "rowPadding": 2, "labelLimit": 400}}
   }}
],
"resolve": {"scale": {"y": "independent", "shape": "independent", "fill": "independent", "stroke": "independent"}, "axis": {"y": "independent"}, "legend": {"shape": "independent", "fill": "independent", "stroke": "independent"}}
},
{
"width": 744, "height": 553,
"layer": [
  {"layer": [
    {"data": {"name": "pb"}, "transform": [{"filter": "datum.s !== 'Aconitic acid'"}],
     "mark": {"type": "errorbar", "ticks": true, "size": 11, "thickness": 1.5, "opacity": 0.8},
     "encoding": {"x": {"field": "t", "type": "quantitative", "title": "Time (h)"}, "y": {"field": "v", "type": "quantitative", "title": "Metabolities (g/L)"}, "yError": {"field": "e"},
       "color": {"field": "s", "type": "nominal", "scale": {"domain": ["Aconitic acid","Biomass","Residual glucose","Citric acid","Lactic acid","Acetic acid","α-Ketoglutaratic acid"], "range": ["#ff8000","#ee1c1c","#2e5c96","#3cbf5a","#6c9fd6","#009a96","#808080"]}, "legend": null}}},
    {"data": {"name": "pb"}, "transform": [{"filter": "datum.s !== 'Aconitic acid'"}],
     "mark": {"type": "line", "strokeWidth": 2.5},
     "encoding": {
       "x": {"field": "t", "type": "quantitative", "title": "Time (h)", "scale": {"domain": [0, 96], "nice": false, "zero": false},
         "axis": {"title": "Time (h)", "values": [0,3,6,9,12,15,18,21,24,27,30,33,36,39,42,45,48,51,54,57,60,63,66,69,72,75,78,81,84,87,90,93,96], "labelExpr": "datum.value % 12 === 0 ? datum.label : ''", "labelOverlap": false, "labelFlush": false, "tickSize": {"condition": {"test": "datum.value % 12 === 0", "value": 11}, "value": 7}, "tickWidth": 2, "domainWidth": 2, "labelFontSize": 24, "labelFontWeight": "bold", "labelPadding": 6, "titleFontSize": 29, "titleFontWeight": "bold", "titlePadding": 52}},
       "y": {"field": "v", "type": "quantitative", "title": "Metabolities (g/L)", "scale": {"domain": [0, 10], "nice": false},
         "axis": {"title": "Metabolities (g/L)", "values": [0,0.5,1,1.5,2,2.5,3,3.5,4,4.5,5,5.5,6,6.5,7,7.5,8,8.5,9,9.5,10], "labelExpr": "datum.value % 1 === 0 ? datum.label : ''", "labelOverlap": false, "labelFlush": false, "tickSize": {"condition": {"test": "datum.value % 1 === 0", "value": -11}, "value": -6}, "tickWidth": 2, "domainWidth": 2, "labelFontSize": 24, "labelFontWeight": "bold", "labelPadding": 27, "titleFontSize": 30, "titleFontWeight": "bold", "titlePadding": 6}},
       "color": {"field": "s", "type": "nominal", "legend": null}}},
    {"data": {"name": "pb"}, "transform": [{"filter": "datum.s !== 'Aconitic acid'"}],
     "mark": {"type": "point", "filled": true, "size": 220, "opacity": 1},
     "encoding": {"x": {"field": "t", "type": "quantitative", "title": "Time (h)"}, "y": {"field": "v", "type": "quantitative", "title": "Metabolities (g/L)"},
       "color": {"field": "s", "type": "nominal", "legend": null},
       "shape": {"field": "s", "type": "nominal", "scale": {"domain": ["Aconitic acid","Biomass","Residual glucose","Citric acid","Lactic acid","Acetic acid","α-Ketoglutaratic acid"], "range": ["triangle-up","square","circle","triangle-down","M0,-1L0.87,-0.5L0.87,0.5L0,1L-0.87,0.5L-0.87,-0.5Z","M0,-1L0.95,-0.31L0.59,0.81L-0.59,0.81L-0.95,-0.31Z","triangle-left"]}, "legend": null}}},
    {"data": {"name": "days"}, "mark": {"type": "rule", "strokeWidth": 3, "color": "black"}, "encoding": {"x": {"field": "s", "type": "quantitative", "title": "Time (h)"}, "y": {"datum": -0.85}, "y2": {"datum": -1.56}}},
    {"data": {"name": "days"}, "mark": {"type": "rule", "strokeWidth": 3, "color": "black"}, "encoding": {"x": {"field": "e", "type": "quantitative", "title": "Time (h)"}, "y": {"datum": -0.85}, "y2": {"datum": -1.56}}},
    {"data": {"name": "days"}, "mark": {"type": "rule", "strokeWidth": 2.5, "color": "black", "xOffset": 4, "x2Offset": -36}, "encoding": {"x": {"field": "s", "type": "quantitative", "title": "Time (h)"}, "x2": {"field": "m"}, "y": {"datum": -1.21}}},
    {"data": {"name": "days"}, "mark": {"type": "rule", "strokeWidth": 2.5, "color": "black", "xOffset": 36, "x2Offset": -4}, "encoding": {"x": {"field": "m", "type": "quantitative", "title": "Time (h)"}, "x2": {"field": "e"}, "y": {"datum": -1.21}}},
    {"data": {"name": "days"}, "mark": {"type": "point", "shape": "triangle-left", "filled": true, "size": 90, "color": "black", "opacity": 1, "xOffset": 6}, "encoding": {"x": {"field": "s", "type": "quantitative", "title": "Time (h)"}, "y": {"datum": -1.21}}},
    {"data": {"name": "days"}, "mark": {"type": "point", "shape": "triangle-right", "filled": true, "size": 90, "color": "black", "opacity": 1, "xOffset": -6}, "encoding": {"x": {"field": "e", "type": "quantitative", "title": "Time (h)"}, "y": {"datum": -1.21}}},
    {"data": {"name": "days"}, "mark": {"type": "text", "fontSize": 22, "fontWeight": "bold", "baseline": "middle", "align": "center"}, "encoding": {"x": {"field": "m", "type": "quantitative", "title": "Time (h)"}, "y": {"datum": -1.21}, "text": {"field": "day"}}},
    {"data": {"values": [{"txt": "b"}]}, "mark": {"type": "text", "fontSize": 34, "fontWeight": "bold", "baseline": "alphabetic", "align": "left"}, "encoding": {"x": {"datum": -11.5}, "y": {"datum": 10.33}, "text": {"field": "txt"}}},
    {"data": {"values": [{"txt": "E. coli"}]}, "mark": {"type": "text", "fontSize": 34, "fontWeight": "bold", "fontStyle": "italic", "baseline": "alphabetic", "align": "right", "dx": -9}, "encoding": {"x": {"datum": 31.4}, "y": {"datum": 10.36}, "text": {"field": "txt"}}},
    {"data": {"values": [{"txt": "BL21(DE3)+pdCas9-none"}]}, "mark": {"type": "text", "fontSize": 34, "fontWeight": "bold", "baseline": "alphabetic", "align": "left"}, "encoding": {"x": {"datum": 31.4}, "y": {"datum": 10.36}, "text": {"field": "txt"}}}
  ]},
  {"layer": [
    {"data": {"name": "pb"}, "transform": [{"filter": "datum.s === 'Aconitic acid'"}],
     "mark": {"type": "errorbar", "ticks": true, "size": 11, "thickness": 1.5, "opacity": 0.8},
     "encoding": {"x": {"field": "t", "type": "quantitative", "title": "Time (h)"}, "y": {"field": "v", "type": "quantitative", "title": "Aconitic acid (mg/L)"}, "yError": {"field": "e"}, "color": {"field": "s", "type": "nominal", "legend": null}}},
    {"data": {"name": "pb"}, "transform": [{"filter": "datum.s === 'Aconitic acid'"}],
     "mark": {"type": "line", "strokeWidth": 2.5, "strokeDash": [2, 4]},
     "encoding": {"x": {"field": "t", "type": "quantitative", "title": "Time (h)"},
       "y": {"field": "v", "type": "quantitative", "title": "Aconitic acid (mg/L)", "scale": {"domain": [0, 700], "nice": false},
         "axis": {"orient": "right", "title": "Aconitic acid (mg/L)", "values": [0,50,100,150,200,250,300,350,400,450,500,550,600,650,700], "labelExpr": "datum.value % 100 === 0 ? datum.label : ''", "labelOverlap": false, "labelFlush": false, "tickSize": {"condition": {"test": "datum.value % 100 === 0", "value": -11}, "value": -6}, "tickWidth": 2, "domainWidth": 2, "labelFontSize": 24, "labelFontWeight": "bold", "labelPadding": 20, "titleFontSize": 30, "titleFontWeight": "bold", "titlePadding": 22, "titleAngle": 270, "titleBaseline": "top"}},
       "color": {"field": "s", "type": "nominal", "legend": null}}},
    {"data": {"name": "pb"}, "transform": [{"filter": "datum.s === 'Aconitic acid'"}],
     "mark": {"type": "point", "filled": true, "size": 250, "opacity": 1, "shape": "triangle-up"},
     "encoding": {"x": {"field": "t", "type": "quantitative", "title": "Time (h)"}, "y": {"field": "v", "type": "quantitative", "title": "Aconitic acid (mg/L)"}, "color": {"field": "s", "type": "nominal", "legend": null}}}
  ]},
  {"data": {"name": "pb"}, "transform": [{"filter": "datum.t < 0"}],
   "mark": {"type": "point", "filled": true, "strokeWidth": 2.5, "opacity": 1},
   "encoding": {
     "fill": {"field": "s", "type": "nominal", "scale": {"domain": ["Aconitic acid","Biomass","Residual glucose","Citric acid","Lactic acid","Acetic acid","α-Ketoglutaratic acid"], "range": ["#ff8000","#ee1c1c","#2e5c96","#3cbf5a","#6c9fd6","#009a96","#808080"]}, "legend": {"title": null, "orient": "top-left", "offset": 8, "padding": 0, "symbolSize": 196, "symbolStrokeWidth": 2.5, "symbolOffset": 28, "labelFontSize": 21, "labelColor": "black", "labelOffset": 18, "rowPadding": 2, "labelLimit": 400}},
     "stroke": {"field": "s", "type": "nominal", "scale": {"domain": ["Aconitic acid","Biomass","Residual glucose","Citric acid","Lactic acid","Acetic acid","α-Ketoglutaratic acid"], "range": ["#ff8000","#ee1c1c","#2e5c96","#3cbf5a","#6c9fd6","#009a96","#808080"]}, "legend": {"title": null, "orient": "top-left", "offset": 8, "padding": 0, "symbolSize": 196, "symbolStrokeWidth": 2.5, "symbolOffset": 28, "labelFontSize": 21, "labelColor": "black", "labelOffset": 18, "rowPadding": 2, "labelLimit": 400}},
     "shape": {"field": "s", "type": "nominal", "scale": {"domain": ["Aconitic acid","Biomass","Residual glucose","Citric acid","Lactic acid","Acetic acid","α-Ketoglutaratic acid"], "range": ["M-3.4,0H-2.5M-2,0H-1M1,0H2M2.5,0H3.4M0,-1L1,0.8L-1,0.8Z","M-3.4,0H3.4M-0.85,-0.85H0.85V0.85H-0.85Z","M-3.4,0H3.4M-1,0A1,1 0 1,0 1,0A1,1 0 1,0 -1,0Z","M-3.4,0H3.4M0,1L1,-0.8L-1,-0.8Z","M-3.4,0H3.4M0,-1L0.87,-0.5L0.87,0.5L0,1L-0.87,0.5L-0.87,-0.5Z","M-3.4,0H3.4M0,-1L0.95,-0.31L0.59,0.81L-0.59,0.81L-0.95,-0.31Z","M-3.4,0H3.4M-1,0L0.9,-1L0.9,1Z"]}, "legend": {"title": null, "orient": "top-left", "offset": 8, "padding": 0, "symbolSize": 196, "symbolStrokeWidth": 2.5, "symbolOffset": 28, "labelFontSize": 21, "labelColor": "black", "labelOffset": 18, "rowPadding": 2, "labelLimit": 400}}
   }}
],
"resolve": {"scale": {"y": "independent", "shape": "independent", "fill": "independent", "stroke": "independent"}, "axis": {"y": "independent"}, "legend": {"shape": "independent", "fill": "independent", "stroke": "independent"}}
}
],
"spacing": 273,
"bounds": "flush",
"resolve": {"scale": {"x": "independent", "y": "independent", "color": "independent", "shape": "independent", "fill": "independent", "stroke": "independent"}, "legend": {"color": "independent", "shape": "independent", "fill": "independent", "stroke": "independent"}}
},
{
"hconcat": [
{
"width": 141, "height": 632,
"view": {"stroke": null},
"data": {"values": []},
"mark": {"type": "point", "opacity": 0}
},
{
"width": 1285, "height": 632,
"title": {"text": "c", "anchor": "start", "frame": "bounds", "fontSize": 36, "fontWeight": "bold", "color": "black", "dx": -80, "offset": -12},
"view": {"stroke": "black", "strokeWidth": 3},
"layer": [
  {"data": {"name": "heat"}, "mark": {"type": "rect"},
   "encoding": {
     "x": {"field": "t", "type": "ordinal", "axis": {"title": "Time (h)", "labelAngle": 0, "offset": 24, "tickSize": 11, "tickWidth": 3, "domainWidth": 4, "labelFontSize": 24, "labelFontWeight": "bold", "labelPadding": 9, "titleFontSize": 32, "titleFontWeight": "bold", "titlePadding": 18}},
     "y": {"field": "m", "type": "nominal", "sort": ["α-Ketoglutaratic acid","Aconitic acid","Citric acid","Acetic acid","Lactic acid","Residual glucose","Biomass"], "axis": {"title": null, "labelExpr": "split(datum.label, ' ')", "labelFontSize": 30, "labelFontWeight": "bold", "labelLineHeight": 31, "tickSize": 16, "tickWidth": 3, "domain": false, "labelPadding": 4, "labelLimit": 400}},
     "color": {"field": "r", "type": "quantitative", "scale": {"type": "log", "domain": [0.001, 15], "domainMid": 1, "range": ["#0000ff", "#ffffff", "#ff0000"], "interpolate": "rgb", "nice": false}, "legend": null}
   }},
  {"data": {"name": "rows"}, "mark": {"type": "rect", "fill": null, "fillOpacity": 0, "stroke": "black", "strokeWidth": 3},
   "encoding": {"y": {"field": "m", "type": "nominal", "sort": ["α-Ketoglutaratic acid","Aconitic acid","Citric acid","Acetic acid","Lactic acid","Residual glucose","Biomass"]}}}
]
},
{
"width": 20, "height": 359,
"view": {"stroke": "#444", "strokeWidth": 1},
"data": {"name": "cbar"},
"layer": [
  {"transform": [{"filter": "datum.fold > 1"}],
   "mark": {"type": "rect", "stroke": "#555", "strokeWidth": 1, "color": {"gradient": "linear", "x1": 0, "y1": 1, "x2": 0, "y2": 0, "stops": [{"offset": 0, "color": "#0000ff"}, {"offset": 0.5, "color": "#ffffff"}, {"offset": 1, "color": "#ff0000"}]}},
   "encoding": {
     "x": {"datum": 0, "type": "quantitative", "scale": {"domain": [0, 1], "nice": false}, "axis": null},
     "x2": {"datum": 1},
     "y": {"datum": 0.001, "type": "quantitative", "scale": {"type": "log", "domain": [0.001, 15], "nice": false}, "axis": {"title": "CCRISPRi/Ccontrol", "labels": false, "ticks": false, "domain": false, "grid": false, "titleFontSize": 26, "titleFontWeight": "bold", "titlePadding": 20}},
     "y2": {"datum": 15}
   }},
  {"transform": [{"filter": "datum.fold > 1"}],
   "mark": {"type": "text", "baseline": "bottom", "dy": -8, "fontSize": 26, "fontWeight": "bold", "align": "center"},
   "encoding": {"x": {"datum": 0.5}, "y": {"field": "fold", "type": "quantitative"}, "text": {"field": "label"}}},
  {"transform": [{"filter": "datum.fold < 1"}],
   "mark": {"type": "text", "baseline": "top", "dy": 10, "fontSize": 26, "fontWeight": "bold", "align": "center"},
   "encoding": {"x": {"datum": 0.5}, "y": {"field": "fold", "type": "quantitative"}, "text": {"field": "label"}}}
]
}
],
"spacing": 117,
"bounds": "flush",
"center": true,
"resolve": {"scale": {"x": "independent", "y": "independent", "color": "independent"}}
}
]
}
